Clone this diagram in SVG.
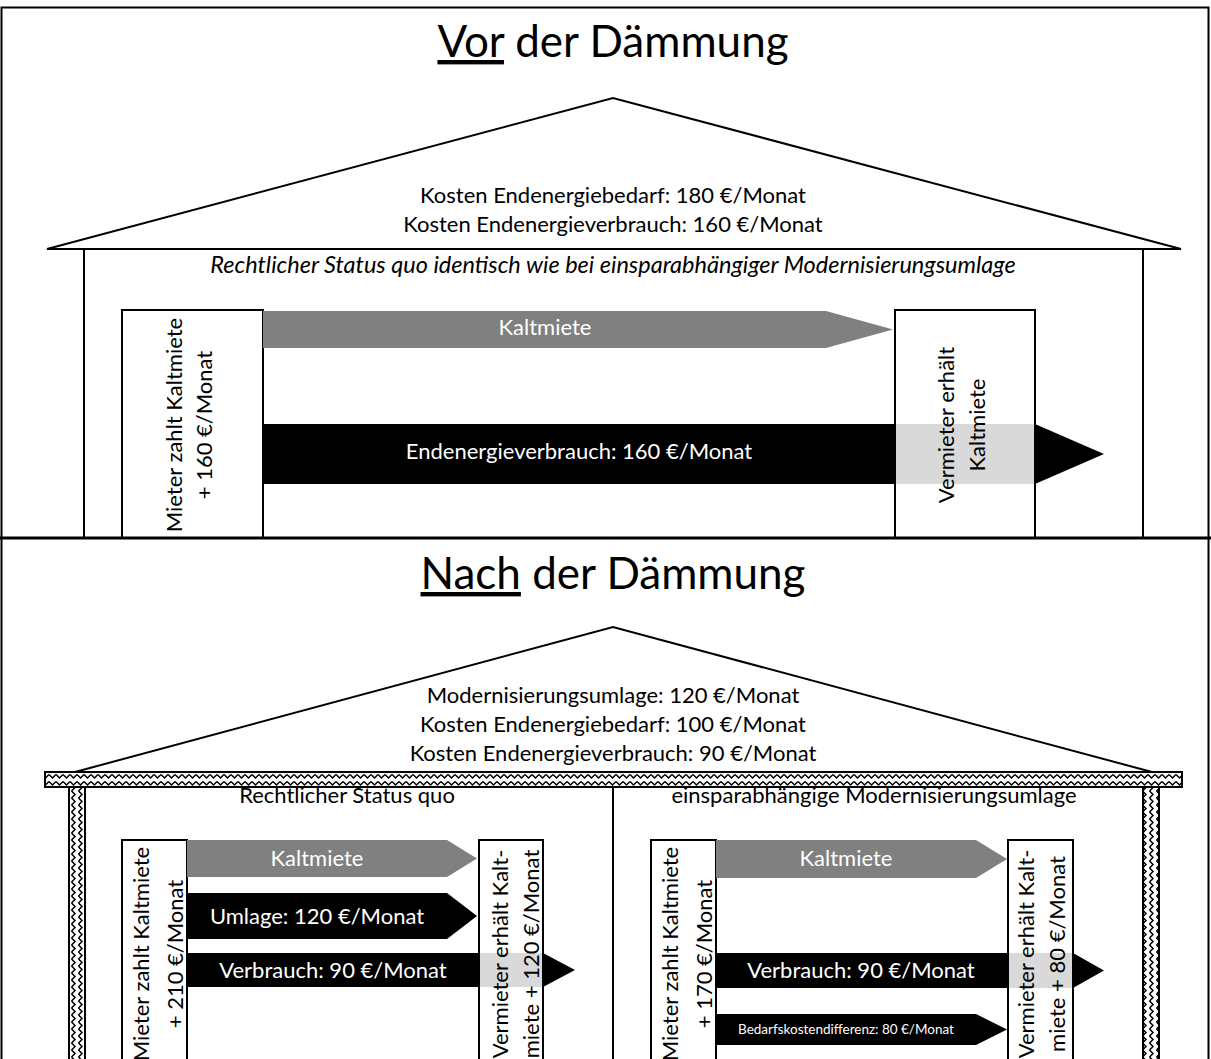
<svg xmlns="http://www.w3.org/2000/svg" width="1211" height="1059" viewBox="0 0 1211 1059">
<style>
  text { font-family: Lato, "Open Sans", sans-serif; fill: #000; }
  .title { font-size: 44px; text-anchor: middle; }
  .t { font-size: 22px; text-anchor: middle; }
  .w { fill: #fff; }
  .it { font-style: italic; font-size: 23.5px; }
  .sm { font-size: 13.5px; }
  .ln { stroke: #000; stroke-width: 2; fill: none; }
  .box { fill: #fff; stroke: #000; stroke-width: 2; }
  .grey { fill: #808080; }
  .blk { fill: #000; }
  .ov { fill: #d9d9d9; }
  .hatch { fill: url(#zig); stroke: #000; stroke-width: 2; }
  .hatchv { fill: url(#zigv); stroke: #000; stroke-width: 2; }
</style>
<defs>
  <pattern id="zig" patternUnits="userSpaceOnUse" x="0" y="773" width="7" height="7">
    <rect width="7" height="7" fill="#fff"/>
    <path d="M0,1.5 L3.5,5 L7,1.5" fill="none" stroke="#000" stroke-width="1.5"/>
  </pattern>
  <pattern id="zigv" patternUnits="userSpaceOnUse" x="70" y="0" width="7" height="7">
    <rect width="7" height="7" fill="#fff"/>
    <path d="M1.5,0 L5,3.5 L1.5,7" fill="none" stroke="#000" stroke-width="1.5"/>
  </pattern>
</defs>
<rect x="0" y="0" width="1211" height="1059" fill="#fff"/>

<!-- TOP: Vor der Dämmung -->
<g id="title-vor">
  <text class="title" x="613" y="57"><tspan text-decoration="underline">Vor</tspan> der Dämmung</text>
</g>
<g id="house-vor">
  <polygon points="47,249 613,98 1181,249" class="ln"/>
  <line x1="84" y1="249" x2="84" y2="538" class="ln"/>
  <line x1="1143" y1="249" x2="1143" y2="538" class="ln"/>
  <text class="t" x="613" y="203">Kosten Endenergiebedarf: 180 €/Monat</text>
  <text class="t" x="613" y="232">Kosten Endenergieverbrauch: 160 €/Monat</text>
  <text class="t it" x="613" y="273">Rechtlicher Status quo identisch wie bei einsparabhängiger Modernisierungsumlage</text>
</g>
<g id="mieter-vor">
  <rect x="122" y="310" width="141" height="228" class="box"/>
  <text class="t" transform="translate(182,425) rotate(-90)">Mieter zahlt Kaltmiete</text>
  <text class="t" transform="translate(212,425) rotate(-90)">+ 160 €/Monat</text>
</g>
<g id="vermieter-vor">
  <rect x="895" y="310" width="140" height="228" class="box"/>
</g>
<g id="connectors-vor">
  <polygon points="263,311 826,311 893,329.5 826,348 263,348" class="grey"/>
  <text class="t w" x="545" y="335">Kaltmiete</text>
  <polygon points="263,424 1035,424 1104,454 1035,484 263,484" class="blk"/>
  <rect x="896" y="424" width="138" height="60" class="ov"/>
  <text class="t w" x="579" y="459">Endenergieverbrauch: 160 €/Monat</text>
</g>
<g id="vermieter-vor-text">
  <text class="t" transform="translate(954,425) rotate(-90)">Vermieter erhält</text>
  <text class="t" transform="translate(985,425) rotate(-90)">Kaltmiete</text>
</g>

<!-- frame -->
<g id="frame">
  <rect x="1.5" y="7.5" width="1207" height="1070" class="ln"/>
  <line x1="0" y1="538" x2="1211" y2="538" stroke="#000" stroke-width="3"/>
</g>

<!-- BOTTOM: Nach der Dämmung -->
<g id="title-nach">
  <text class="title" x="613" y="589"><tspan text-decoration="underline">Nach</tspan> der Dämmung</text>
</g>
<g id="house-nach">
  <polyline points="75,772 613,627 1152,772" class="ln"/>
  <text class="t" x="613" y="703">Modernisierungsumlage: 120 €/Monat</text>
  <text class="t" x="613" y="732">Kosten Endenergiebedarf: 100 €/Monat</text>
  <text class="t" x="613" y="761">Kosten Endenergieverbrauch: 90 €/Monat</text>
  <text class="t" x="347" y="803">Rechtlicher Status quo</text>
  <text class="t" x="874" y="803">einsparabhängige Modernisierungsumlage</text>
  <rect x="45" y="772" width="1137" height="15" class="hatch"/>
  <rect x="69" y="787" width="16" height="290" class="hatchv"/>
  <rect x="1143" y="787" width="16" height="290" class="hatchv"/>
  <line x1="613" y1="787" x2="613" y2="1059" class="ln"/>
</g>

<!-- left sub-house -->
<g id="mieter-quo">
  <rect x="122" y="840" width="65" height="240" class="box"/>
  <text class="t" transform="translate(149,954) rotate(-90)">Mieter zahlt Kaltmiete</text>
  <text class="t" transform="translate(183,954) rotate(-90)">+ 210 €/Monat</text>
</g>
<g id="vermieter-quo">
  <rect x="479" y="840" width="64" height="240" class="box"/>
</g>
<g id="connectors-quo">
  <polygon points="187,840 447,840 477,858.5 447,877 187,877" class="grey"/>
  <text class="t w" x="317" y="866">Kaltmiete</text>
  <polygon points="187,893 447,893 477,916 447,939 187,939" class="blk"/>
  <text class="t w" x="317" y="924">Umlage: 120 €/Monat</text>
  <polygon points="187,953 543,953 575,970 543,987 187,987" class="blk"/>
  <rect x="480" y="953" width="62" height="34" class="ov"/>
  <text class="t w" x="333" y="978">Verbrauch: 90 €/Monat</text>
</g>
<g id="vermieter-quo-text">
  <text class="t" transform="translate(508,954) rotate(-90)">Vermieter erhält Kalt-</text>
  <text class="t" transform="translate(539,954) rotate(-90)">miete + 120 €/Monat</text>
</g>

<!-- right sub-house -->
<g id="mieter-umlage">
  <rect x="651" y="840" width="65" height="240" class="box"/>
  <text class="t" transform="translate(678,954) rotate(-90)">Mieter zahlt Kaltmiete</text>
  <text class="t" transform="translate(712,954) rotate(-90)">+ 170 €/Monat</text>
</g>
<g id="vermieter-umlage">
  <rect x="1008" y="840" width="65" height="240" class="box"/>
</g>
<g id="connectors-umlage">
  <polygon points="716,840 976,840 1007,859 976,878 716,878" class="grey"/>
  <text class="t w" x="846" y="866">Kaltmiete</text>
  <polygon points="716,953 1073,953 1104,970.5 1073,988 716,988" class="blk"/>
  <rect x="1009" y="953" width="63" height="35" class="ov"/>
  <text class="t w" x="861" y="978">Verbrauch: 90 €/Monat</text>
  <polygon points="716,1014 976,1014 1007,1029.5 976,1045 716,1045" class="blk"/>
  <text class="t w sm" x="846" y="1034">Bedarfskostendifferenz: 80 €/Monat</text>
</g>
<g id="vermieter-umlage-text">
  <text class="t" transform="translate(1034,954) rotate(-90)">Vermieter erhält Kalt-</text>
  <text class="t" transform="translate(1065,954) rotate(-90)">miete + 80 €/Monat</text>
</g>
</svg>
